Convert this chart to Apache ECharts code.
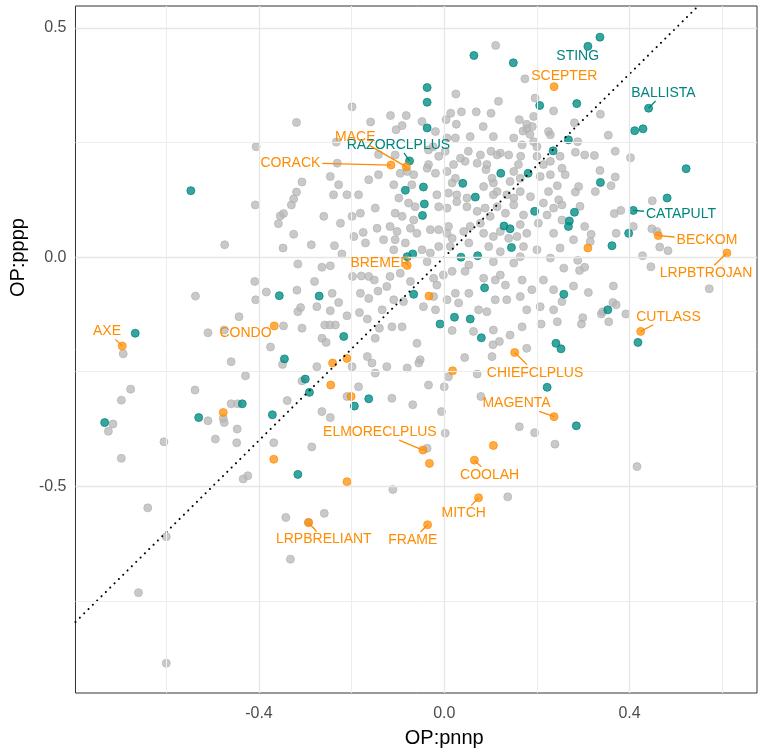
<!DOCTYPE html>
<html>
<head>
<meta charset="utf-8">
<title>OP:pppp vs OP:pnnp</title>
<script src="https://cdn.jsdelivr.net/npm/echarts@6/dist/echarts.min.js"></script>
<style>
  html, body { margin: 0; padding: 0; background: #fff; }
  #chart { width: 765px; height: 754px; }
</style>
</head>
<body>
<div id="chart"></div>
<script>
// grey points (all other items)
const greyPoints = [
  [-0.319,0.294],[-0.406,0.241],[-0.408,0.114],[-0.307,0.164],[-0.319,0.142],[-0.325,0.127],[-0.330,0.114],[-0.347,0.095],[-0.354,0.090],[-0.358,0.073],[-0.325,0.050],
  [-0.199,0.328],[-0.159,0.295],[-0.233,0.251],[-0.142,0.224],[-0.231,0.205],[-0.246,0.176],[-0.228,0.158],[-0.163,0.169],[-0.142,0.180],[-0.239,0.136],[-0.210,0.136],[-0.185,0.136],[-0.149,0.107],[-0.260,0.089],[-0.224,0.074],[-0.199,0.089],[-0.181,0.096],[-0.145,0.063],[0.111,0.462],[0.174,0.389],
  [0.025,0.356],[0.117,0.340],[-0.116,0.309],[-0.082,0.309],[0.014,0.314],[0.037,0.317],[0.069,0.317],[0.101,0.314],[-0.091,0.287],[-0.104,0.278],[0.004,0.300],[0.026,0.290],[0.084,0.285],[0.162,0.300],[0.178,0.280],[-0.019,0.274],[0.006,0.260],[0.056,0.263],[0.106,0.263],[0.150,0.260],[0.168,0.245],[-0.024,0.241],[0.002,0.231],[0.052,0.231],[0.078,0.223],[0.101,0.231],[0.121,0.227],[0.139,0.223],[0.165,0.220],[-0.095,0.183],[-0.080,0.187],[-0.034,0.202],[-0.019,0.183],[0.006,0.187],[0.024,0.172],[0.045,0.209],[0.071,0.205],[0.090,0.191],[0.103,0.172],[0.150,0.187],[0.164,0.172],[-0.098,0.129],[0.009,0.140],[0.049,0.129],[0.085,0.154],[0.106,0.136],[0.150,0.129],
  [-0.048,0.296],[0.024,0.260],[0.196,0.347],[0.236,0.319],[0.193,0.307],[0.225,0.274],[0.229,0.267],[0.193,0.252],[0.200,0.241],[-0.106,0.223],[-0.034,0.234],[-0.012,0.220],[0.020,0.202],[0.035,0.216],[0.092,0.202],[0.114,0.223],[0.160,0.202],[0.200,0.220],[0.214,0.202],[0.229,0.209],[0.250,0.220],[0.254,0.194],[0.229,0.180],[0.261,0.180],[-0.066,0.180],[-0.037,0.194],[0.017,0.162],[0.106,0.162],[0.142,0.165],[0.207,0.176],[-0.109,0.158],[-0.070,0.158],[-0.016,0.136],[0.027,0.136],[0.114,0.143],[0.135,0.136],[0.164,0.143],[0.186,0.132],[0.225,0.143],[0.244,0.156],[0.247,0.125],[0.178,0.290],[0.190,0.285],[0.185,0.268],[0.170,0.275],
  [0.337,0.312],[0.281,0.293],[0.288,0.252],[0.354,0.266],[0.369,0.231],[0.283,0.229],[0.303,0.223],[0.324,0.222],[0.402,0.217],[0.336,0.189],[0.369,0.175],[0.290,0.154],[0.360,0.156],[0.326,0.143],[0.283,0.142],[0.449,0.123],[0.293,0.111],[0.367,0.095],[0.381,0.102],[0.303,0.067],[0.317,0.050],[0.408,0.067],[0.448,0.062],[0.459,0.056],
  [0.279,0.038],[0.315,0.034],[0.371,0.052],[0.465,0.022],[0.483,0.014],[0.428,0.003],[0.446,-0.021],[0.288,-0.007],[0.292,-0.029],[0.303,-0.022],[0.279,-0.063],[0.311,-0.077],[0.365,-0.063],[0.364,-0.099],[0.371,-0.104],[0.339,-0.124],[0.342,-0.119],[0.392,-0.124],[0.299,-0.132],[0.296,-0.146],[0.355,-0.141],[0.244,-0.141],[0.209,-0.146],[0.178,-0.199],[0.572,-0.069],[0.195,-0.383],[0.239,-0.408],[0.416,-0.457],
  [-0.077,0.118],[-0.063,0.110],[-0.106,0.096],[-0.091,0.089],[-0.066,0.081],[-0.012,0.110],[0.006,0.107],[0.027,0.121],[0.049,0.110],[0.071,0.100],[0.088,0.107],[0.099,0.089],[0.114,0.110],[0.132,0.096],[0.150,0.114],[0.171,0.092],[0.214,0.118],[0.236,0.107],[0.254,0.114],[0.222,0.092],
  [-0.117,0.067],[-0.102,0.056],[-0.073,0.063],[-0.059,0.052],[-0.131,0.038],[-0.106,0.038],[-0.084,0.031],[-0.030,0.060],[-0.012,0.060],[0.009,0.067],[0.006,0.052],[0.017,0.041],[0.042,0.056],[0.056,0.067],[0.078,0.074],[0.085,0.052],[0.106,0.045],[0.121,0.056],[0.139,0.041],[0.164,0.071],[0.157,0.045],[0.178,0.052],[0.203,0.074],[0.236,0.052],[0.254,0.081],
  [-0.109,0.016],[-0.048,0.016],[-0.030,0.009],[-0.012,0.023],[-0.037,-0.010],[0.013,0.023],[0.053,0.031],[0.096,0.023],[0.121,0.012],[0.106,-0.010],[0.171,0.023],[0.164,0.001],[0.200,0.016],[0.250,0.020],[0.229,-0.002],[0.258,-0.024],[0.150,-0.013],[0.053,-0.017],[0.017,-0.031],[0.045,-0.031],[-0.002,-0.039],
  [-0.117,-0.042],[-0.095,-0.035],[-0.073,-0.053],[-0.023,-0.046],[-0.016,-0.061],[0.085,-0.046],[0.110,-0.050],[0.121,-0.039],[0.132,-0.061],[0.168,-0.050],[0.189,-0.071],[0.214,-0.050],[0.236,-0.071],[0.053,-0.079],[0.024,-0.079],[-0.124,-0.064],
  [-0.109,-0.093],[-0.088,-0.097],[-0.045,-0.108],[-0.023,-0.086],[-0.019,-0.115],[0.006,-0.093],[0.031,-0.100],[0.074,-0.115],[0.092,-0.119],[0.110,-0.093],[0.135,-0.093],[0.164,-0.086],[0.178,-0.115],[0.207,-0.108],[0.236,-0.115],[0.254,-0.097],[-0.134,-0.115],
  [-0.287,0.027],[-0.237,0.025],[-0.221,0.007],[-0.175,0.054],[-0.195,0.045],[-0.170,0.031],[-0.264,-0.022],[-0.246,-0.019],[-0.280,-0.053],[-0.198,-0.042],[-0.179,-0.041],[-0.163,-0.042],[-0.151,-0.050],[-0.181,-0.079],[-0.163,-0.090],[-0.143,-0.074],[-0.242,-0.079],[-0.275,-0.108],[-0.246,-0.117],[-0.228,-0.099],[-0.183,-0.121],[-0.166,-0.135],[-0.210,-0.128],[-0.258,-0.148],[-0.247,-0.148],[-0.235,-0.148],[-0.140,-0.155],[-0.149,-0.177],[-0.264,-0.177],[-0.255,-0.186],[-0.166,-0.217],[-0.156,-0.231],[-0.149,-0.253],[-0.275,-0.239],[-0.199,-0.239],[-0.210,-0.304],[-0.185,-0.283],[-0.264,-0.337],[-0.246,-0.350],[-0.286,-0.414],[-0.124,-0.239],
  [-0.113,-0.152],[-0.091,-0.152],[-0.059,-0.188],[-0.052,-0.224],[-0.055,-0.231],[-0.080,-0.242],[-0.034,-0.279],[0.000,-0.283],[0.009,-0.261],[0.044,-0.219],[0.071,-0.255],[0.103,-0.217],[0.119,-0.184],[0.142,-0.170],[0.105,-0.191],[0.106,-0.159],[0.063,-0.162],[0.017,-0.160],[0.168,-0.152],[-0.113,-0.308],[-0.068,-0.322],[-0.006,-0.337],[0.079,-0.304],[0.002,-0.384],[-0.037,-0.417],[0.162,-0.370],
  [-0.474,0.027],[-0.348,0.020],[-0.316,-0.015],[-0.409,-0.053],[-0.384,-0.076],[-0.407,-0.093],[-0.537,-0.085],[-0.318,-0.072],[-0.316,-0.119],[-0.310,-0.110],[-0.443,-0.130],[-0.510,-0.165],[-0.475,-0.159],[-0.347,-0.150],[-0.307,-0.155],[-0.693,-0.211],[-0.375,-0.196],[-0.460,-0.228],[-0.349,-0.234],[-0.429,-0.259],[-0.307,-0.270],[-0.677,-0.288],[-0.697,-0.312],[-0.538,-0.290],[-0.339,-0.313],[-0.460,-0.320],[-0.446,-0.320],[-0.715,-0.364],[-0.725,-0.380],[-0.510,-0.357],[-0.477,-0.352],[-0.475,-0.361],[-0.447,-0.375],[-0.368,-0.405],[-0.494,-0.397],[-0.448,-0.405],[-0.605,-0.403],[-0.697,-0.439],
  [-0.640,-0.547],[-0.600,-0.610],[-0.660,-0.732],[-0.600,-0.886],[-0.434,-0.484],[-0.424,-0.477],[-0.342,-0.568],[-0.332,-0.659],[-0.293,-0.579],[-0.111,-0.507],[-0.259,-0.559],[0.137,-0.523]
];

// teal group
const tealPoints = [
  [0.336,0.480],[0.310,0.460],[0.064,0.440],[0.149,0.424],[-0.037,0.370],[-0.037,0.338],[0.286,0.335],[0.206,0.331],[0.441,0.325],[-0.037,0.282],
  [0.429,0.280],[0.411,0.276],[0.268,0.256],[0.235,0.232],[-0.075,0.210],[0.522,0.193],[0.122,0.183],[0.181,0.183],[0.337,0.163],[0.040,0.161],
  [-0.045,0.153],[-0.084,0.146],[-0.547,0.145],[0.067,0.131],[0.481,0.129],[-0.043,0.116],[0.408,0.102],[0.195,0.100],[0.281,0.098],[-0.047,0.091],
  [0.270,0.079],[0.129,0.068],[0.268,0.067],[0.142,0.062],[0.398,0.052],[0.362,0.025],[0.145,0.021],[-0.068,0.007],[-0.080,0.001],[0.036,0.000],
  [0.072,0.003],[0.087,-0.067],[0.258,-0.081],[-0.066,-0.081],[-0.356,-0.084],[-0.270,-0.085],[0.353,-0.115],[0.022,-0.131],[0.056,-0.135],[-0.009,-0.146],
  [-0.667,-0.166],[0.080,-0.176],[-0.217,-0.173],[0.418,-0.186],[0.241,-0.188],[0.252,-0.200],[-0.345,-0.222],[-0.300,-0.266],[0.222,-0.284],[-0.291,-0.295],
  [-0.163,-0.309],[-0.436,-0.320],[-0.194,-0.325],[-0.371,-0.344],[-0.530,-0.350],[-0.733,-0.361],[0.285,-0.368],[-0.316,-0.474]
];

// orange group
const orangePoints = [
  [0.237,0.372],[-0.115,0.201],[-0.082,0.197],[0.462,0.047],[0.310,0.020],[0.610,0.009],[-0.080,-0.018],[-0.033,-0.085],[-0.367,-0.150],[0.424,-0.162],
  [-0.695,-0.194],[0.152,-0.208],[-0.210,-0.221],[-0.241,-0.231],[0.018,-0.248],[-0.245,-0.279],[-0.201,-0.304],[-0.477,-0.339],[0.237,-0.348],[0.106,-0.411],
  [-0.046,-0.421],[-0.368,-0.441],[0.065,-0.443],[-0.032,-0.450],[-0.210,-0.490],[0.074,-0.525],[-0.036,-0.584],[-0.293,-0.579]
];

// named items: name, group, x, y
const labelled = [
  ['STING','teal',0.310,0.460],
  ['SCEPTER','orange',0.237,0.372],
  ['BALLISTA','teal',0.441,0.325],
  ['RAZORCLPLUS','teal',-0.075,0.210],
  ['MACE','orange',-0.082,0.197],
  ['CORACK','orange',-0.115,0.201],
  ['CATAPULT','teal',0.408,0.102],
  ['BECKOM','orange',0.462,0.047],
  ['LRPBTROJAN','orange',0.610,0.009],
  ['BREMER','orange',-0.080,-0.018],
  ['CUTLASS','orange',0.424,-0.162],
  ['CONDO','orange',-0.367,-0.150],
  ['AXE','orange',-0.695,-0.194],
  ['CHIEFCLPLUS','orange',0.152,-0.208],
  ['MAGENTA','orange',0.237,-0.348],
  ['ELMORECLPLUS','orange',-0.046,-0.421],
  ['COOLAH','orange',0.065,-0.443],
  ['MITCH','orange',0.074,-0.525],
  ['FRAME','orange',-0.036,-0.584],
  ['LRPBRELIANT','orange',-0.293,-0.579]
];
// where each label text sits (same order as labelled)
const labelSpots = [
  [0.288,0.438],[0.259,0.394],[0.473,0.358],[-0.099,0.245],[-0.192,0.262],
  [-0.332,0.206],[0.511,0.094],[0.567,0.038],[0.565,-0.035],[-0.138,-0.013],
  [0.484,-0.130],[-0.429,-0.165],[-0.728,-0.162],[0.196,-0.252],[0.156,-0.319],
  [-0.139,-0.382],[0.098,-0.475],[0.042,-0.559],[-0.068,-0.617],[-0.260,-0.616]
];

const xTicks = [-0.4, 0.0, 0.4];
const yTicks = [-0.5, 0.0, 0.5];
const xGridMinor = [-0.6, -0.2, 0.2, 0.6];
const yGridMinor = [-0.75, -0.25, 0.25];

const xMin = -0.796, xMax = 0.675;
const yMin = -0.951, yMax = 0.548;

const FONT = '"Liberation Sans", Arial, sans-serif';
const labelColor = { teal: '#00857e', orange: '#ff8c00' };

var measureCtx = document.createElement('canvas').getContext('2d');
measureCtx.font = '14px ' + FONT;

var myChart = echarts.init(document.getElementById('chart'));

// grid lines as mark lines
var gridLines = [];
xGridMinor.forEach(function (v) { gridLines.push({ xAxis: v, lineStyle: { color: '#ededed', width: 1, type: 'solid' } }); });
xTicks.forEach(function (v) { gridLines.push({ xAxis: v, lineStyle: { color: '#e6e6e6', width: 1.3, type: 'solid' } }); });
yGridMinor.forEach(function (v) { gridLines.push({ yAxis: v, lineStyle: { color: '#ededed', width: 1, type: 'solid' } }); });
yTicks.forEach(function (v) { gridLines.push({ yAxis: v, lineStyle: { color: '#e6e6e6', width: 1.3, type: 'solid' } }); });

function renderLabel(params, api) {
  var item = labelled[params.dataIndex];
  var p = api.coord([api.value(0), api.value(1)]);
  var c = api.coord([api.value(2), api.value(3)]);
  var color = labelColor[item[1]];
  var tw = measureCtx.measureText(item[0]).width;
  var hw = tw / 2 + 2, hh = 8;
  var dx = p[0] - c[0], dy = p[1] - c[1];
  var children = [];
  if (Math.abs(dx) > hw || Math.abs(dy) > hh) {
    var t = Math.min(dx === 0 ? Infinity : hw / Math.abs(dx), dy === 0 ? Infinity : hh / Math.abs(dy));
    var ex = c[0] + dx * t, ey = c[1] + dy * t;
    var len = Math.sqrt((p[0] - ex) * (p[0] - ex) + (p[1] - ey) * (p[1] - ey));
    if (len > 5) {
      children.push({
        type: 'line',
        shape: { x1: ex, y1: ey, x2: p[0], y2: p[1] },
        style: { stroke: color, lineWidth: 1.3 }
      });
    }
  }
  children.push({
    type: 'text',
    style: {
      x: c[0], y: c[1], text: item[0], fill: color,
      font: '14px ' + FONT, align: 'center', verticalAlign: 'middle'
    }
  });
  return { type: 'group', children: children };
}

var option = {
  animation: false,
  backgroundColor: '#ffffff',
  grid: {
    left: 75, right: 8, top: 6, bottom: 61,
    show: true, borderColor: '#333333', borderWidth: 1, backgroundColor: 'transparent'
  },
  xAxis: {
    type: 'value', min: xMin, max: xMax,
    name: 'OP:pnnp', nameLocation: 'middle', nameGap: 35,
    // title sits under the 0.0 tick in the original
    nameTextStyle: { fontFamily: FONT, fontSize: 20, color: '#000', padding: [0, 0, 0, 56] },
    axisLine: { show: false },
    axisTick: { show: true, customValues: xTicks, length: 4, lineStyle: { color: '#333' } },
    axisLabel: {
      customValues: xTicks, margin: 13, fontFamily: FONT, fontSize: 16, color: '#4d4d4d',
      formatter: function (v) { return v.toFixed(1); }
    },
    splitLine: { show: false }
  },
  yAxis: {
    type: 'value', min: yMin, max: yMax,
    name: 'OP:pppp', nameLocation: 'middle', nameGap: 46, nameRotate: 90,
    nameTextStyle: { fontFamily: FONT, fontSize: 20, color: '#000', padding: [0, 0, 0, 184] },
    axisLine: { show: false },
    axisTick: { show: true, customValues: yTicks, length: 4, lineStyle: { color: '#333' } },
    axisLabel: {
      customValues: yTicks, margin: 9, fontFamily: FONT, fontSize: 16, color: '#4d4d4d',
      formatter: function (v) { return v.toFixed(1); }
    },
    splitLine: { show: false }
  },
  series: [
    {
      name: 'grid', type: 'line', data: [], silent: true, z: 0,
      markLine: { silent: true, symbol: ['none', 'none'], label: { show: false }, animation: false, data: gridLines }
    },
    {
      name: 'other', type: 'scatter', data: greyPoints, symbolSize: 8, z: 2, silent: true,
      itemStyle: { color: 'rgba(180,180,180,0.72)', borderColor: 'rgba(180,180,180,0.72)', borderWidth: 1, opacity: 1 }
    },
    {
      name: 'teal', type: 'scatter', data: tealPoints, symbolSize: 8, z: 3, silent: true,
      itemStyle: { color: 'rgba(0,139,130,0.78)', borderColor: 'rgba(0,139,130,0.78)', borderWidth: 1, opacity: 1 }
    },
    {
      name: 'orange', type: 'scatter', data: orangePoints, symbolSize: 8, z: 3, silent: true,
      itemStyle: { color: 'rgba(255,140,0,0.72)', borderColor: 'rgba(255,140,0,0.72)', borderWidth: 1, opacity: 1 }
    },
    {
      name: 'identity', type: 'line', data: [[xMin, xMin], [yMax, yMax]], showSymbol: false, silent: true, z: 4,
      lineStyle: { color: '#000', width: 2, type: [0.1, 6], cap: 'round' }
    },
    {
      name: 'labels', type: 'custom', z: 5, silent: true,
      data: labelled.map(function (d, i) { return [d[2], d[3], labelSpots[i][0], labelSpots[i][1]]; }),
      encode: { x: [0, 2], y: [1, 3] },
      renderItem: renderLabel
    }
  ]
};

myChart.setOption(option);
</script>
</body>
</html>
